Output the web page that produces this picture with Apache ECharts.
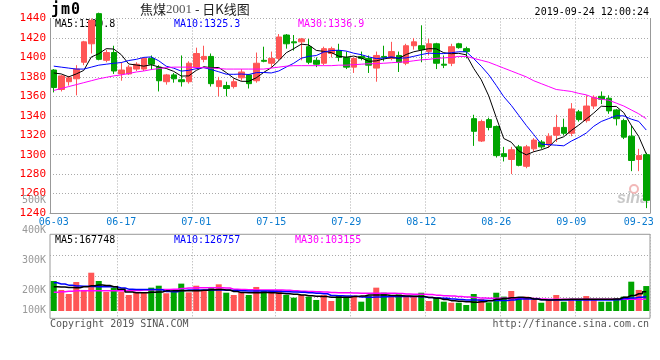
<!DOCTYPE html>
<html><head><meta charset="utf-8">
<script src="https://cdn.jsdelivr.net/npm/echarts@6/dist/echarts.min.js"></script>
<style>html,body{margin:0;padding:0;background:#fff}#c{width:660px;height:360px}</style>
</head><body><div id="c"></div>
<script>
const dates = ['06-03','06-04','06-05','06-06','06-10','06-11','06-12','06-13','06-14','06-17','06-18','06-19','06-20','06-21','06-24','06-25','06-26','06-27','06-28',
'07-01','07-02','07-03','07-04','07-05','07-08','07-09','07-10','07-11','07-12','07-15','07-16','07-17','07-18','07-19','07-22','07-23','07-24','07-25','07-26','07-29','07-30','07-31',
'08-01','08-02','08-05','08-06','08-07','08-08','08-09','08-12','08-13','08-14','08-15','08-16','08-19','08-20','08-21','08-22','08-23','08-26','08-27','08-28','08-29','08-30',
'09-02','09-03','09-04','09-05','09-06','09-09','09-10','09-11','09-12','09-16','09-17','09-18','09-19','09-20','09-23','09-24'];
const opens  = [1387,1367,1375,1378,1395,1414,1445,1397,1405,1383, 1383,1388,1388,1399,1390,1375,1382,1377,1375,1390, 1398,1401,1370,1371,1370,1379,1382,1376,1397,1394, 1399,1423,1416,1416,1411,1397,1394,1404,1407,1400, 1390,1401,1399,1389,1401,1399,1402,1394,1412,1412, 1406,1414,1393,1394,1414,1409,1337,1314,1336,1329, 1301,1295,1308,1288,1306,1313,1310,1320,1328,1322, 1344,1335,1350,1360,1358,1346,1335,1319,1295,1300];
const highs  = [1388,1382,1381,1392,1417,1440,1446,1408,1412,1395, 1392,1395,1400,1402,1392,1383,1384,1402,1396,1410, 1412,1404,1380,1375,1378,1388,1383,1405,1411,1406, 1424,1424,1423,1420,1419,1400,1411,1411,1414,1406, 1400,1406,1402,1406,1412,1416,1406,1414,1420,1433, 1419,1415,1402,1414,1415,1411,1341,1336,1338,1330, 1308,1308,1310,1310,1317,1315,1322,1341,1337,1353, 1346,1361,1361,1365,1361,1347,1337,1330,1306,1302];
const lows   = [1364,1365,1371,1361,1392,1404,1397,1395,1383,1376, 1382,1386,1386,1387,1365,1372,1374,1370,1373,1388, 1395,1370,1360,1360,1368,1376,1368,1374,1395,1390, 1397,1409,1407,1397,1393,1390,1392,1400,1396,1388, 1384,1397,1384,1375,1396,1397,1385,1392,1408,1395, 1402,1388,1389,1391,1409,1399,1309,1313,1325,1297, 1293,1280,1288,1286,1303,1306,1307,1313,1320,1319, 1334,1333,1347,1352,1342,1330,1316,1283,1283,1245];
const closes = [1369,1381,1379,1388,1416,1438,1398,1405,1386,1387, 1390,1393,1399,1393,1376,1382,1378,1375,1394,1404, 1401,1373,1376,1368,1375,1385,1373,1394,1396,1399, 1421,1414,1415,1419,1395,1393,1409,1409,1400,1390, 1399,1399,1392,1402,1400,1406,1395,1412,1416,1408, 1414,1394,1392,1411,1410,1406,1324,1334,1328,1299, 1298,1305,1289,1308,1315,1308,1319,1328,1322,1347, 1336,1350,1359,1357,1345,1337,1318,1294,1299,1253];
// volume in thousands (K)
const volumes = [261,183,148,252,183,333,261,165,203,168, 139,165,165,203,220,154,168,238,162,220, 183,209,232,159,139,162,139,209,174,183, 183,139,116,139,125,96,139,87,139,125, 133,81,133,203,159,125,145,125,130,159, 87,119,81,72,72,52,148,104,75,159, 125,174,110,125,110,72,96,139,81,102, 102,130,102,81,81,110,125,255,183,217];
const ma5 = [1384,1383,1380,1383,1386.6,1400.4,1403.8,1409,1408.6,1402.8, 1393.2,1392.2,1391,1392.4,1390.2,1388.6,1385.6,1380.8,1381,1386.6, 1390.4,1389.4,1389.6,1384.4,1378.6,1375.4,1375.4,1379,1384.6,1389.4, 1396.6,1404.8,1409,1413.6,1412.8,1407.2,1406.2,1405,1401.2,1400.2, 1401.4,1399.4,1396,1396.4,1398.4,1399.8,1399,1403,1405.8,1407.4, 1409,1408.8,1404.8,1403.8,1404.2,1402.6,1388.6,1377,1360.4,1338.2, 1316.6,1312.8,1303.8,1299.8,1303,1305,1307.8,1315.6,1318.4,1324.8, 1330.4,1336.6,1342.8,1349.8,1349.4,1349.6,1343.2,1330.2,1318.6,1300.8];
const ma10 = [1391,1390,1389,1388,1388,1390,1392,1393,1394,1394.7, 1396.8,1398,1400,1400.5,1396.5,1390.9,1388.9,1385.9,1386.7,1388.4, 1389.5,1387.5,1385.2,1382.7,1382.6,1382.9,1382.4,1384.3,1384.5,1384, 1386,1390.1,1394,1399.1,1401.1,1401.9,1405.5,1407,1407.4,1406.5, 1404.3,1402.8,1400.5,1398.8,1399.3,1400.6,1399.2,1399.5,1401.1,1402.9, 1404.4,1403.9,1403.9,1404.8,1405.8,1405.8,1398.7,1390.9,1382.1,1371.2, 1359.6,1350.7,1340.4,1330.1,1320.6,1310.8,1310.3,1309.7,1309.1,1313.9, 1317.7,1322.2,1329.2,1334.1,1337.1,1340,1339.9,1336.5,1334.2,1325.3];
const ma30 = [1366,1368,1370,1372,1374,1376,1378,1379.5,1381,1382, 1383.5,1385,1386,1387.5,1388.5,1389.5,1390,1390,1390,1389.5, 1389.5,1389,1388.5,1388,1388,1388,1388,1388,1388,1389, 1390,1391,1391.5,1391.5,1391.5,1391.5,1391.5,1391.5,1392,1392, 1392.5,1393,1393.5,1393.5,1394,1394.5,1395,1395.5,1396.5,1397.5, 1398,1399,1399.5,1400,1401,1401,1399,1397,1395,1392, 1389,1386,1383,1380,1376,1373,1370,1367,1366,1365, 1363,1361.5,1358.5,1357,1356,1353,1350,1346,1342,1336.9];
const volMa5 = [211,208,205,203,210,220,226,222,211,190, 165,159,159,162,165,175,177,177,177,177, 180,185,188,182,170,160,159,159,160,158, 155,150,145,140,132,128,125,119,119,120, 125,130,139,139,139,135,133,130,128,125, 118,110,100,90,85,80,76,80,90,102, 108,115,119,115,105,98,96,98,100,102, 102,102,102,102,102,105,120,135,150,168];
const volMa10 = [246,235,225,217,215,212,211,211,210,200, 190,188,188,188,185,170,168,178,183,183, 183,183,182,180,178,176,174,174,174,172, 170,168,166,163,158,155,150,135,132,130, 128,122,120,122,124,125,125,125,125,124, 118,112,110,105,100,96,96,94,92,91, 92,95,104,105,104,98,96,96,96,96, 96,96,96,96,96,98,108,112,120,127];
const volMa30 = [162,168,172,175,177,177,177,177,177,177, 177,178,182,185,188,188,190,195,200,203, 203,203,203,200,190,186,184,183,183,183, 183,180,176,172,170,168,166,160,159,158, 157,155,154,154,154,154,152,148,146,145, 143,138,133,130,125,121,117,112,110,110, 110,110,110,110,108,104,103,102,102,102, 102,102,102,102,102,102,102,102,103,103];
const volMaLabels = ['MA5:167748','MA10:126757','MA30:103155'];
const priceMin = 1240, priceMax = 1440, priceStep = 20;
const dateLabelIdx = [0,9,19,29,39,49,59,69,78];
const gridLineIdx = [9,19,30,40,50,60,70];
const volTickLabels = ['500K','400K','300K','200K','100K'];

const UP = '#ff5656', DN = '#00a400';
const MONO = 'DejaVu Sans Mono';
const GRIDC = '#aaaaaa', BORDER = '#999999';
const volTickY = [200, 230.5, 260, 290.5, 310.3];

const chart = echarts.init(document.getElementById('c'), null, {renderer: 'canvas'});
const dotted = {color: GRIDC, type: [1, 2], width: 1};

const graphics = [];
graphics.push({type:'text', left: 51, top: 3, z: 10, style:{text:'{c|j}{c|m}{c|0}', rich:{c:{width:10, align:'center', fontFamily: MONO, fontWeight:'bold', fontSize:15, fill:'#000'}}}});
graphics.push({type:'text', x: 140, y: 3, z: 10, style:{text:'{a|焦煤}{b|2001}{a| - 日K线图}', rich:{a:{fontFamily:'Noto Sans CJK SC', fontSize:13, fill:'#222'}, b:{fontFamily:'Liberation Serif', fontSize:13, fill:'#555'}}}});
graphics.push({type:'text', x: 649, y: 7, z: 10, style:{text:'2019-09-24 12:00:24', fontFamily: MONO, fontSize:10, fill:'#000', align:'right'}});
graphics.push({type:'text', x: 55, y: 19, z: 0, style:{text:'MA5:' + ma5[ma5.length-1].toFixed(1), fontFamily: MONO, fontSize:10, fill:'#000'}});
graphics.push({type:'text', x: 174, y: 19, z: 0, style:{text:'MA10:' + ma10[ma10.length-1].toFixed(1), fontFamily: MONO, fontSize:10, fill:'#0000ff'}});
graphics.push({type:'text', x: 298, y: 19, z: 0, style:{text:'MA30:' + ma30[ma30.length-1].toFixed(1), fontFamily: MONO, fontSize:10, fill:'#ff00ff'}});
graphics.push({type:'text', x: 55, y: 235, z: 10, style:{text: volMaLabels[0], fontFamily: MONO, fontSize:10, fill:'#000'}});
graphics.push({type:'text', x: 174, y: 235, z: 10, style:{text: volMaLabels[1], fontFamily: MONO, fontSize:10, fill:'#0000ff'}});
graphics.push({type:'text', x: 295, y: 235, z: 10, style:{text: volMaLabels[2], fontFamily: MONO, fontSize:10, fill:'#ff00ff'}});
volTickLabels.forEach((t, k) => graphics.push({type:'text', x: 46, y: volTickY[k], z: 10, style:{text: t, fontFamily: MONO, fontSize:10, fill:'#999', align:'right', verticalAlign:'middle'}}));
graphics.push({type:'text', x: 50, y: 319, z: 10, style:{text:'Copyright 2019 SINA.COM', fontFamily: MONO, fontSize:10, fill:'#555'}});
graphics.push({type:'text', x: 649, y: 319, z: 10, style:{text:'http://finance.sina.com.cn', fontFamily: MONO, fontSize:10, fill:'#555', align:'right'}});
graphics.push({type:'circle', shape:{cx: 634, cy: 189, r: 4}, z: 1, style:{fill:'none', stroke:'#f2b8b8', lineWidth: 2}});
graphics.push({type:'text', x: 617, y: 191, z: 1, style:{text:'sina', fontFamily:'Liberation Sans', fontStyle:'italic', fontWeight:'bold', fontSize:16, fill:'#c8c8c8'}});

const volColors = volumes.map((v, i) => closes[i] > opens[i] ? UP : DN);

const option = {
  animation: false,
  backgroundColor: '#fff',
  graphic: graphics,
  grid: [
    {left: 50, top: 18.5, width: 600, height: 194.5},
    {left: 50, top: 234.3, width: 600, height: 84, show: true, borderColor: BORDER, borderWidth: 1}
  ],
  xAxis: [
    {type:'category', gridIndex:0, data: dates, boundaryGap: true,
      axisLine:{show:true, lineStyle:{color: BORDER}}, axisTick:{show:false},
      axisLabel:{interval:(i)=>dateLabelIdx.includes(i), color:'#0a7bd0', fontFamily: MONO, fontSize:10, margin:4},
      splitLine:{show:true, interval:(i)=>gridLineIdx.includes(i), lineStyle: dotted}},
    {type:'category', gridIndex:1, data: dates, boundaryGap: true,
      axisLine:{show:false}, axisTick:{show:false}, axisLabel:{show:false},
      splitLine:{show:true, interval:(i)=>gridLineIdx.includes(i), lineStyle: dotted}}
  ],
  yAxis: [
    {type:'value', gridIndex:0, min: priceMin, max: priceMax, interval: priceStep,
      axisLine:{show:true, lineStyle:{color: BORDER}}, axisTick:{show:false},
      axisLabel:{color:'#ff0000', fontFamily: MONO, fontSize:11, margin:4, formatter:(v)=>String(v)},
      splitLine:{show:true, lineStyle: dotted}},
    {type:'value', gridIndex:0, position:'right', min: priceMin, max: priceMax,
      axisLine:{show:true, lineStyle:{color: BORDER}}, axisTick:{show:false}, axisLabel:{show:false}, splitLine:{show:false}},
    {type:'value', gridIndex:1, min: -63.5, max: 667,
      axisLine:{show:false}, axisTick:{show:false}, axisLabel:{show:false}, splitLine:{show:false}},
    {type:'value', gridIndex:1, min: 0, max: 4, interval: 1, position:'right',
      axisLine:{show:false}, axisTick:{show:false}, axisLabel:{show:false},
      splitLine:{show:true, showMinLine:false, showMaxLine:false, lineStyle: dotted}}
  ],
  series: [
    {type:'candlestick', xAxisIndex:0, yAxisIndex:0, barWidth: 6, clip: false, z: 3,
      data: dates.map((d, i) => [opens[i], closes[i], lows[i], highs[i]]),
      itemStyle:{color: UP, color0: DN, borderColor: UP, borderColor0: DN, borderWidth: 1}},
    {type:'line', xAxisIndex:0, yAxisIndex:0, data: ma5, symbol:'none', z: 4, lineStyle:{color:'#000', width:1}},
    {type:'line', xAxisIndex:0, yAxisIndex:0, data: ma10, symbol:'none', z: 4, lineStyle:{color:'#0000ff', width:1}},
    {type:'line', xAxisIndex:0, yAxisIndex:0, data: ma30, symbol:'none', z: 4, lineStyle:{color:'#ff00ff', width:1}},
    {type:'bar', xAxisIndex:1, yAxisIndex:2, barWidth: 6, z: 3,
      data: volumes.map((v, i) => ({value: v, itemStyle:{color: volColors[i]}}))},
    {type:'line', xAxisIndex:1, yAxisIndex:2, data: volMa30, symbol:'none', step:'middle', z: 4, lineStyle:{color:'#ff00ff', width:1.5}},
    {type:'line', xAxisIndex:1, yAxisIndex:2, data: volMa10, symbol:'none', step:'middle', z: 4, lineStyle:{color:'#0000ff', width:1.5}},
    {type:'line', xAxisIndex:1, yAxisIndex:2, data: volMa5, symbol:'none', step:'middle', z: 4, lineStyle:{color:'#000', width:1.5}}
  ]
};
chart.setOption(option);
</script>
</body></html>
